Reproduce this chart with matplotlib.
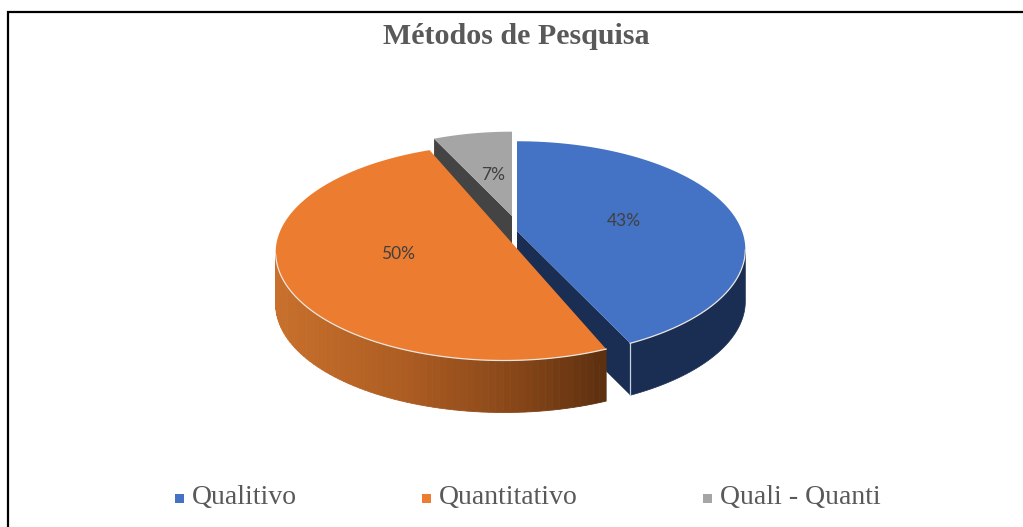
#!/usr/bin/env python
# -*- coding: utf-8 -*-
"""Exploded 3D-look pie, Metodos de Pesquisa."""

import numpy as np
import matplotlib
matplotlib.use('Agg')
import matplotlib.pyplot as plt
from matplotlib.patches import Polygon, Rectangle
from matplotlib.colors import LinearSegmentedColormap

categories = ["Qualitivo", "Quantitativo", "Quali - Quanti"]
values = [43, 50, 7]
labels = ["43%", "50%", "7%"]
title = "Métodos de Pesquisa"

top_colors = ["#4472C4", "#EB7C30", "#A5A5A5"]
wall_colors = ["#1A2E54", None, "#444444"]
text_grey = "#595959"

# projected disc, all in picture pixels
RX = 225
RY = 105
PERSP = 0.17
DEPTH = 52
FRONT = -0.17
apex = [(517, 231), (504, 234), (512, 216)]
radius = [1.0, 1.0, 0.93]
tilt = [0.0, 2.7, 0.0]
label_xy = [(624, 221), (398, 254), (493, 175)]
legend_x = [175, 422, 703]
wall_cmap = LinearSegmentedColormap.from_list(
    "wall", [(0, "#C8702C"), (0.4, "#AC5C22"), (0.75, "#844518"), (1, "#5C2F0F")])


def rim(i, ang):
    # ang in degrees clockwise from the back of the disc
    a = np.radians(ang + tilt[i])
    v = np.cos(a) * radius[i]
    u = np.sin(a) * radius[i]
    s = 1 / (1 + PERSP * v)
    return apex[i][0] + RX * u * s, apex[i][1] - RY * v * s


def arc(i, a0, a1):
    angs = np.linspace(a0, a1, 120)
    return np.array([rim(i, a) for a in angs])


def front_arc(i, a0, a1):
    angs = np.linspace(a0, a1, 120)
    return arc(i, a0, a1)[np.cos(np.radians(angs + tilt[i])) < FRONT]


fig = plt.figure(figsize=(10.23, 5.27), dpi=100)
ax = fig.add_axes([0, 0, 1, 1])
ax.set_xlim(0, 1023)
ax.set_ylim(527, 0)
ax.axis('off')

# frame: only left and top edges are there
ax.plot([8, 8, 1023], [527, 12, 12], color="black", lw=1.6, zorder=1,
        solid_joinstyle='miter')

starts = np.cumsum([0] + values[:-1]) * 3.6
ends = np.cumsum(values) * 3.6
down = np.array([0, DEPTH])

# grey first, its cut wall goes behind the others
for i, zt in [(2, 2), (0, 4), (1, 6)]:
    a0, a1 = starts[i], ends[i]
    o = np.array(apex[i], dtype=float)
    pts = arc(i, a0, a1)
    front = front_arc(i, a0, a1)
    if i == 2:
        e = np.array(rim(i, a0))
        ax.add_patch(Polygon([e, o, o + down, e + down], fc=wall_colors[2], ec='none', zorder=zt))
    if i == 0:
        e = np.array(rim(i, a1))
        ax.add_patch(Polygon([o, e, e + down, o + down], fc=wall_colors[0], ec='none', zorder=zt))
        ax.add_patch(Polygon(np.vstack([front, (front + down)[::-1]]),
                             fc=wall_colors[0], ec=wall_colors[0], lw=0.5, zorder=zt + 0.2))
        ax.plot([e[0], e[0]], [e[1], e[1] + DEPTH], color="#C9D0DE", lw=0.9, zorder=zt + 0.4)
    if i == 1:
        xs = front[:, 0]
        for p, q in zip(front[:-1], front[1:]):
            c = wall_cmap((0.5 * (p[0] + q[0]) - xs.min()) / (xs.max() - xs.min()))
            ax.add_patch(Polygon([p, q, q + down, p + down], fc=c, ec=c, lw=0.6, zorder=zt))
    ax.add_patch(Polygon(np.vstack([o, pts]), fc=top_colors[i], ec='none', zorder=zt + 1))
    if len(front):
        ax.plot(front[:, 0], front[:, 1], color="#EDE6E0", lw=0.9, zorder=zt + 1.2)
    ax.text(label_xy[i][0], label_xy[i][1], labels[i], ha='center', va='center',
            fontsize=12.5, color="#404040", family='Lato', zorder=10)

ax.text(516, 36, title, ha='center', va='center', fontsize=21.6, fontweight='bold',
        color=text_grey, family='Liberation Serif')

for x, name, c in zip(legend_x, categories, top_colors):
    ax.add_patch(Rectangle((x, 494), 9, 9, fc=c, ec='none'))
    ax.text(x + 17, 498, name, ha='left', va='center', fontsize=20,
            color=text_grey, family='Liberation Serif')

fig.savefig("out.png", dpi=100)
